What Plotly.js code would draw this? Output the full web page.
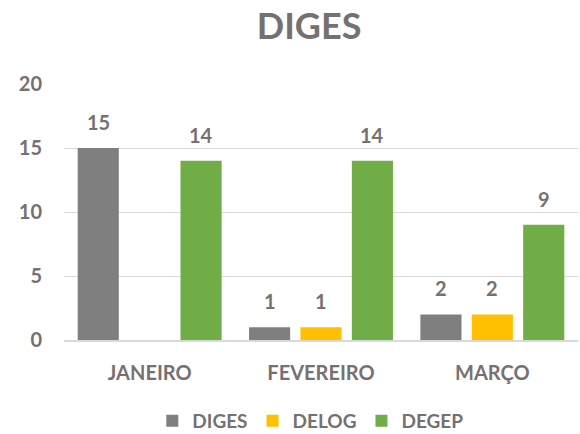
<!DOCTYPE html>
<html><head><meta charset="utf-8">
<script src="https://cdn.plot.ly/plotly-3.0.1.min.js"></script>
<style>body{margin:0;background:#fff}#chart{width:580px;height:434px}</style>
</head><body><div id="chart"></div>
<script>
const categories = ["JANEIRO", "FEVEREIRO", "MARÇO"];
const seriesNames = ["DIGES", "DELOG", "DEGEP"];
const diges = [15, 1, 2];
const delog = [null, 1, 2];
const degep = [14, 14, 9];
const yTicks = [0, 5, 10, 15, 20];

const colors = ["#7f7f7f", "#ffc000", "#70ad47"];
const txtColor = "#767171";
const font = "Lato, 'Open Sans', sans-serif";
const bargap = 0.10;
const slot = (1 - bargap) / 3;

const allSeries = [diges, delog, degep];
const traces = allSeries.map((vals, i) => ({
  type: "bar",
  name: seriesNames[i],
  x: categories,
  y: vals,
  marker: {color: colors[i]},
  hoverinfo: "none"
}));

const annotations = [];
allSeries.forEach((vals, ti) => {
  vals.forEach((v, ci) => {
    if (v === null) return;
    annotations.push({
      x: ci + (ti - 1) * slot, y: v, xref: "x", yref: "y",
      text: "<b>" + v + "</b>", showarrow: false,
      yanchor: "middle", yshift: 26,
      font: {family: font, size: 20, color: txtColor}
    });
  });
});

const layout = {
  width: 580, height: 434,
  paper_bgcolor: "#fff", plot_bgcolor: "#fff",
  margin: {l: 64, r: 2, t: 84, b: 94},
  title: {text: "<b>DIGES</b>", x: 0.533, xref: "container", xanchor: "center",
          y: 0.94, yref: "container", yanchor: "middle",
          font: {family: font, size: 36, color: txtColor}},
  barmode: "group",
  bargap: bargap,
  bargroupgap: 0.2,
  showlegend: true,
  annotations: annotations,
  legend: {orientation: "h", x: 0.535, xref: "container", xanchor: "center",
           y: 0.03, yref: "container", yanchor: "middle",
           font: {family: font, size: 19, color: txtColor, weight: "bold"}, itemwidth: 30, traceorder: "normal"},
  xaxis: {tickfont: {family: font, size: 20, color: txtColor, weight: "bold"}, showgrid: false,
          showline: true, linecolor: "#d9d9d9", linewidth: 2, ticks: "", ticklabelstandoff: 14},
  yaxis: {range: [0, 20], tickvals: yTicks, ticktext: yTicks.map(String),
          tickfont: {family: font, size: 20, color: txtColor, weight: "bold"},
          showgrid: true, gridcolor: "#d9d9d9", gridwidth: 1, zeroline: false, showline: false,
          ticks: "", ticklabelstandoff: 21}
};

Plotly.newPlot("chart", traces, layout, {displayModeBar: false, staticPlot: true});
</script></body></html>
